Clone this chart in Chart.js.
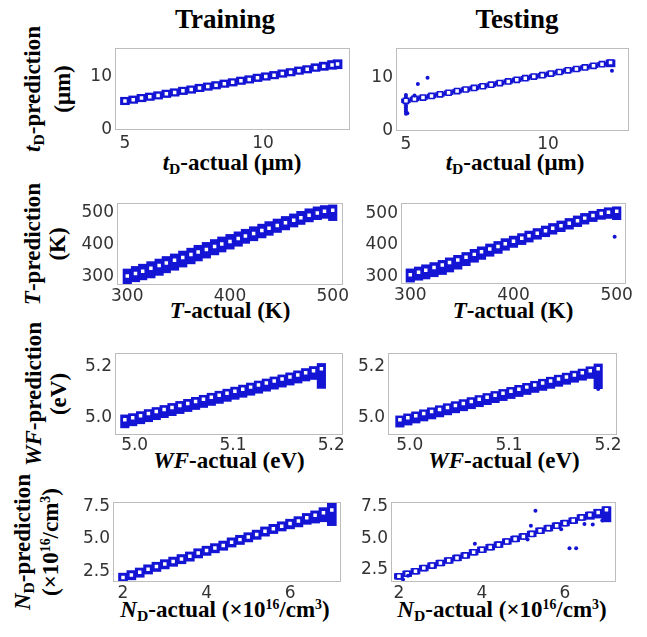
<!DOCTYPE html>
<html>
<head>
<meta charset="utf-8">
<script src="https://cdn.jsdelivr.net/npm/chart.js@4"></script>
<style>
  body { margin: 0; background: #fff; }
  #fig { position: relative; width: 647px; height: 637px; overflow: hidden; background: #fff; }
  canvas { position: absolute; }
  .t { position: absolute; font-family: "Liberation Serif", "Times New Roman", serif; font-weight: bold; color: #000; white-space: nowrap; }
  .title { font-size: 27px; line-height: 27px; transform: translateX(-50%); }
  .xl { font-size: 23px; line-height: 23px; transform: translateX(-50%); }
  .yl { font-size: 23px; text-align: center; transform: translate(-50%, -50%) rotate(-90deg); }
  sub { font-size: 0.68em; vertical-align: -0.25em; line-height: 0; }
  sup { font-size: 0.6em; vertical-align: 0.6em; line-height: 0; }
</style>
</head>
<body>
<div id="fig">
  <div class="t title" style="left:225px;top:6px">Training</div>
  <div class="t title" style="left:517px;top:6px">Testing</div>

  <div class="t yl" style="left:48px;top:89px;line-height:30px"><i>t</i><sub>D</sub>-prediction<br>(μm)</div>
  <div class="t yl" style="left:45px;top:244px;line-height:25px"><i>T</i>-prediction<br>(K)</div>
  <div class="t yl" style="left:46px;top:394px;line-height:25px"><i>WF</i>-prediction<br>(eV)</div>
  <div class="t yl" style="left:37px;top:542px;line-height:28px"><i>N</i><sub>D</sub>-prediction<br>(×10<sup>16</sup>/cm<sup>3</sup>)</div>

  <div class="t xl" style="left:232px;top:151px"><i>t</i><sub>D</sub>-actual (μm)</div>
  <div class="t xl" style="left:515px;top:151px"><i>t</i><sub>D</sub>-actual (μm)</div>
  <div class="t xl" style="left:230px;top:299px"><i>T</i>-actual (K)</div>
  <div class="t xl" style="left:513px;top:299px"><i>T</i>-actual (K)</div>
  <div class="t xl" style="left:229px;top:449px"><i>WF</i>-actual (eV)</div>
  <div class="t xl" style="left:504px;top:449px"><i>WF</i>-actual (eV)</div>
  <div class="t xl" style="left:225px;top:598px"><i>N</i><sub>D</sub>-actual (×10<sup>16</sup>/cm<sup>3</sup>)</div>
  <div class="t xl" style="left:502px;top:598px"><i>N</i><sub>D</sub>-actual (×10<sup>16</sup>/cm<sup>3</sup>)</div>
</div>
<script>
// actual value grid + predicted band (lo/hi) + square marker height

// t_D (um)
const tdTrainX   = [5.0,5.3,5.6,5.9,6.2,6.5,6.8,7.1,7.4,7.7,8.0,8.3,8.6,8.9,9.2,9.5,9.8,10.1,10.4,10.7,11.0,11.3,11.6,11.9,12.2,12.5,12.7];
const tdTrainMid = [5.45,5.7,6.0,6.25,6.5,6.8,7.05,7.35,7.6,7.9,8.15,8.4,8.7,8.95,9.25,9.5,9.8,10.05,10.3,10.6,10.85,11.15,11.4,11.7,11.95,12.2,12.4];
const tdTrainLo  = [4.75,5.0,5.3,5.55,5.8,6.1,6.35,6.65,6.9,7.2,7.45,7.7,8.0,8.25,8.55,8.8,9.1,9.35,9.6,9.9,10.15,10.45,10.7,11.0,11.2,11.4,11.5];
const tdTrainHi  = [6.15,6.4,6.7,6.95,7.2,7.5,7.75,8.05,8.3,8.6,8.85,9.1,9.4,9.65,9.95,10.2,10.5,10.75,11.0,11.3,11.55,11.85,12.1,12.45,12.75,13.05,13.2];

const tdTestX    = [5.0,5.3,5.6,5.9,6.2,6.5,6.8,7.1,7.4,7.7,8.0,8.3,8.6,8.9,9.2,9.5,9.8,10.1,10.4,10.7,11.0,11.3,11.6,11.9,12.2];
const tdTestMid  = [5.6,5.95,6.2,6.5,6.8,7.1,7.4,7.7,8.0,8.3,8.6,8.9,9.2,9.5,9.8,10.1,10.35,10.65,10.95,11.25,11.5,11.8,12.1,12.4,12.7];
const tdTestLo   = [5.25,5.6,5.85,6.15,6.45,6.75,7.05,7.35,7.65,7.95,8.25,8.55,8.85,9.15,9.45,9.75,10.0,10.3,10.6,10.9,11.15,11.45,11.75,12.05,11.9];
const tdTestHi   = [5.95,6.3,6.55,6.85,7.15,7.45,7.75,8.05,8.35,8.65,8.95,9.25,9.55,9.85,10.15,10.45,10.7,11.0,11.3,11.6,11.85,12.15,12.45,12.75,13.2];
const tdTestOut  = [[5.0,3.2],[5.0,3.6],[5.0,4.0],[5.0,4.4],[5.0,4.8],[5.0,6.3],[5.0,6.7],[5.05,3.3],[5.3,6.6],[5.42,8.7],[5.76,9.9],[12.25,11.2]];

// T (K)
const tX         = [300,308,315,323,331,338,346,354,362,369,377,385,392,400,408,415,423,431,438,446,454,462,469,477,485,492,500];
const tTrainMid  = [303,311,318,327,336,344,352,361,370,378,386,395,403,411,420,428,436,445,452,461,469,477,485,493,500,505,508];
const tTrainLo   = [278,285,291,297,305,313,321,331,341,350,359,369,378,387,396,405,413,422,430,439,447,456,464,472,479,483,476];
const tTrainHi   = [325,333,340,348,356,364,372,381,390,399,408,417,425,433,441,449,457,465,473,481,489,497,505,513,519,523,525];

const tTestMid   = [304,312,319,327,335,343,351,360,369,377,386,394,403,411,420,428,436,444,452,460,468,476,484,492,499,503,506];
const tTestLo    = [281,287,291,298,305,313,322,333,344,353,363,372,382,391,400,408,417,425,433,441,449,457,465,473,480,483,479];
const tTestHi    = [323,329,336,343,350,358,366,375,385,393,402,410,419,427,435,443,451,459,467,475,483,491,499,506,512,517,520];
const tTestOut   = [[498,425]];

// WF (eV)
const wfX        = [4.990,4.998,5.006,5.014,5.022,5.030,5.038,5.046,5.054,5.062,5.070,5.078,5.086,5.094,5.102,5.110,5.118,5.126,5.134,5.142,5.150,5.158,5.166,5.174,5.182,5.190];
const wfMid      = [4.993,5.001,5.009,5.017,5.025,5.033,5.041,5.049,5.057,5.065,5.073,5.081,5.089,5.097,5.105,5.113,5.121,5.129,5.137,5.145,5.153,5.161,5.169,5.177,5.185,5.193];
const wfTrainLo  = [4.961,4.969,4.977,4.985,4.993,5.001,5.009,5.017,5.025,5.033,5.041,5.049,5.057,5.065,5.073,5.081,5.089,5.097,5.105,5.113,5.121,5.129,5.137,5.145,5.151,5.116];
const wfTrainHi  = [5.012,5.017,5.025,5.033,5.041,5.049,5.057,5.065,5.073,5.081,5.089,5.097,5.105,5.113,5.121,5.129,5.137,5.145,5.153,5.161,5.169,5.177,5.185,5.194,5.202,5.214];
const wfTestLo   = [4.964,4.972,4.980,4.988,4.996,5.004,5.012,5.020,5.028,5.036,5.044,5.052,5.060,5.068,5.076,5.084,5.092,5.100,5.108,5.116,5.124,5.132,5.140,5.148,5.155,5.115];
const wfTestHi   = [5.008,5.016,5.024,5.032,5.040,5.048,5.056,5.064,5.072,5.080,5.088,5.096,5.104,5.112,5.120,5.128,5.136,5.144,5.152,5.160,5.168,5.176,5.184,5.192,5.201,5.212];
const wfTestOut  = [[5.19,5.114]];

// N_D (x1e16 /cm3)
const ndX        = [2.0,2.2,2.4,2.6,2.8,3.0,3.2,3.4,3.6,3.8,4.0,4.2,4.4,4.6,4.8,5.0,5.2,5.4,5.6,5.8,6.0,6.2,6.4,6.6,6.8,7.0];
const ndMid      = [2.0,2.2,2.4,2.65,2.85,3.05,3.25,3.45,3.65,3.9,4.1,4.3,4.5,4.75,4.95,5.15,5.35,5.6,5.8,6.0,6.2,6.4,6.65,6.85,7.05,7.25];
const ndTrainLo  = [1.64,1.82,2.02,2.27,2.47,2.67,2.87,3.07,3.27,3.52,3.72,3.92,4.12,4.37,4.57,4.77,4.97,5.22,5.42,5.62,5.79,5.94,6.14,6.24,6.34,6.04];
const ndTrainHi  = [2.34,2.54,2.74,2.99,3.19,3.39,3.59,3.79,3.99,4.24,4.44,4.64,4.84,5.09,5.29,5.49,5.69,5.94,6.14,6.34,6.54,6.74,6.99,7.19,7.44,7.79];
const ndTestLo   = [1.78,1.98,2.18,2.43,2.63,2.83,3.03,3.23,3.43,3.68,3.88,4.08,4.28,4.53,4.73,4.93,5.13,5.38,5.58,5.78,5.98,6.18,6.43,6.5,6.6,6.3];
const ndTestHi   = [2.22,2.42,2.62,2.87,3.07,3.27,3.47,3.67,3.87,4.12,4.32,4.52,4.72,4.97,5.17,5.37,5.57,5.82,6.02,6.22,6.42,6.62,6.87,7.07,7.3,7.5];
const ndTestOut  = [[5.29,7.17],[6.11,4.21],[6.27,4.21],[5.91,5.71],[6.47,6.14],[6.67,6.1],[6.9,6.4],[5.1,4.9],[5.18,6.0],[3.83,4.58],[2.22,2.04],[2.1,1.75]];

// tick values and labels
const tdTicksX = [5, 10],           tdLabelsX = ['5', '10'];
const tdTicksY = [0, 10],           tdLabelsY = ['0', '10'];
const tTicks   = [300, 400, 500],   tLabels   = ['300', '400', '500'];
const wfTicksX = [5.0, 5.1, 5.2],   wfLabelsX = ['5.0', '5.1', '5.2'];
const wfTicksY = [5.0, 5.2],        wfLabelsY = ['5.0', '5.2'];
const ndTicksX = [2, 4, 6],         ndLabelsX = ['2', '4', '6'];
const ndTicksY = [2.5, 5.0, 7.5],   ndLabelsY = ['2.5', '5.0', '7.5'];

const BLUE = '#1414d4';
const Y_AXIS_W = 50, X_AXIS_H = 30, PAD_TOP = 12, PAD_RIGHT = 16;

// frame = [left, top, right, bottom] of the plot box in page pixels, xpad = gap under the box for x tick labels
const panels = [
  { frame: [115, 48, 350, 130], xpad: 3, xr: [4.64, 13.15], yr: [0, 15.4], xt: tdTicksX, xl: tdLabelsX, yt: tdTicksY, yl: tdLabelsY,
    X: tdTrainX, mid: tdTrainMid, lo: tdTrainLo, hi: tdTrainHi, out: [], bar: 9 },
  { frame: [396, 48, 629, 131], xpad: 3, xr: [4.65, 12.85], yr: [0, 15.4], xt: tdTicksX, xl: tdLabelsX, yt: tdTicksY, yl: tdLabelsY,
    X: tdTestX, mid: tdTestMid, lo: tdTestLo, hi: tdTestHi, out: tdTestOut, bar: 9 },
  { frame: [117, 203, 343, 285], xpad: 1, xr: [290, 510], yr: [275, 531], xt: tTicks, xl: tLabels, yt: tTicks, yl: tLabels,
    X: tX, mid: tTrainMid, lo: tTrainLo, hi: tTrainHi, out: [], bar: 8.5 },
  { frame: [401, 203, 626, 284], xpad: 1, xr: [291, 509], yr: [275, 532], xt: tTicks, xl: tLabels, yt: tTicks, yl: tLabels,
    X: tX, mid: tTestMid, lo: tTestLo, hi: tTestHi, out: tTestOut, bar: 8.5 },
  { frame: [115, 353, 343, 435], xpad: 0, xr: [4.98, 5.212], yr: [4.933, 5.255], xt: wfTicksX, xl: wfLabelsX, yt: wfTicksY, yl: wfLabelsY,
    X: wfX, mid: wfMid, lo: wfTrainLo, hi: wfTrainHi, out: [], bar: 8.5 },
  { frame: [388, 353, 617, 435], xpad: 0, xr: [4.978, 5.209], yr: [4.933, 5.255], xt: wfTicksX, xl: wfLabelsX, yt: wfTicksY, yl: wfLabelsY,
    X: wfX, mid: wfMid, lo: wfTestLo, hi: wfTestHi, out: wfTestOut, bar: 8.5 },
  { frame: [113, 502, 341, 582], xpad: 1, xr: [1.76, 7.22], yr: [1.65, 7.88], xt: ndTicksX, xl: ndLabelsX, yt: ndTicksY, yl: ndLabelsY,
    X: ndX, mid: ndMid, lo: ndTrainLo, hi: ndTrainHi, out: [], bar: 9 },
  { frame: [391, 502, 616, 582], xpad: 1, xr: [1.81, 7.23], yr: [1.55, 7.87], xt: ndTicksX, xl: ndLabelsX, yt: ndTicksY, yl: ndLabelsY,
    X: ndX, mid: ndMid, lo: ndTestLo, hi: ndTestHi, out: ndTestOut, bar: 9 }
];

// light grey box around the plot area
const framePlugin = {
  id: 'frame',
  afterDraw(chart) {
    const a = chart.chartArea, c = chart.ctx;
    c.save();
    c.strokeStyle = '#bdbdbd';
    c.lineWidth = 1;
    c.strokeRect(a.left + 0.5, a.top + 0.5, a.right - a.left - 1, a.bottom - a.top - 1);
    c.restore();
  }
};

const tickFont = { family: 'DejaVu Sans', size: 17 };
const fig = document.getElementById('fig');

function makePanel(p) {
  const [L, T, R, B] = p.frame;
  const cv = document.createElement('canvas');
  const w = Y_AXIS_W + (R - L) + PAD_RIGHT;
  const h = PAD_TOP + (B - T) + X_AXIS_H;
  cv.width = w; cv.height = h;
  cv.style.left = (L - Y_AXIS_W) + 'px';
  cv.style.top = (T - PAD_TOP) + 'px';
  cv.style.width = w + 'px';
  cv.style.height = h + 'px';
  fig.appendChild(cv);

  new Chart(cv.getContext('2d'), {
    type: 'scatter',
    data: {
      datasets: [
        {
          type: 'bar',
          data: p.X.map((x, i) => ({ x: x, y: [p.lo[i], p.hi[i]] })),
          backgroundColor: BLUE,
          borderWidth: 0,
          barThickness: p.bar,
          grouped: false,
          order: 3
        },
        {
          type: 'scatter',
          data: p.X.map((x, i) => ({ x: x, y: p.mid[i] })),
          pointStyle: 'rect',
          pointRadius: 3.6,
          backgroundColor: '#ffffff',
          borderColor: BLUE,
          borderWidth: 1.6,
          order: 2
        },
        {
          type: 'scatter',
          data: p.out.map(d => ({ x: d[0], y: d[1] })),
          pointRadius: 2,
          backgroundColor: BLUE,
          borderWidth: 0,
          order: 1
        }
      ]
    },
    options: {
      responsive: false,
      animation: false,
      devicePixelRatio: 1,
      layout: { padding: { left: 0, top: PAD_TOP, right: PAD_RIGHT, bottom: 0 } },
      plugins: { legend: { display: false }, tooltip: { enabled: false } },
      scales: {
        x: {
          type: 'linear', min: p.xr[0], max: p.xr[1], offset: false,
          grid: { display: false, drawTicks: false, offset: false },
          border: { display: false },
          ticks: { padding: p.xpad, font: tickFont, color: '#333', autoSkip: false, maxRotation: 0,
                   callback: (v, i) => p.xl[i] },
          afterBuildTicks: s => { s.ticks = p.xt.map(v => ({ value: v })); },
          afterFit: s => { s.height = X_AXIS_H; s.paddingLeft = 0; s.paddingRight = 0; }
        },
        y: {
          type: 'linear', min: p.yr[0], max: p.yr[1],
          grid: { display: false, drawTicks: false },
          border: { display: false },
          ticks: { padding: 3, font: tickFont, color: '#333', autoSkip: false,
                   callback: (v, i) => p.yl[i] },
          afterBuildTicks: s => { s.ticks = p.yt.map(v => ({ value: v })); },
          afterFit: s => { s.width = Y_AXIS_W; s.paddingTop = 0; s.paddingBottom = 0; }
        }
      }
    },
    plugins: [framePlugin]
  });
}

panels.forEach(makePanel);
</script>
</body>
</html>
